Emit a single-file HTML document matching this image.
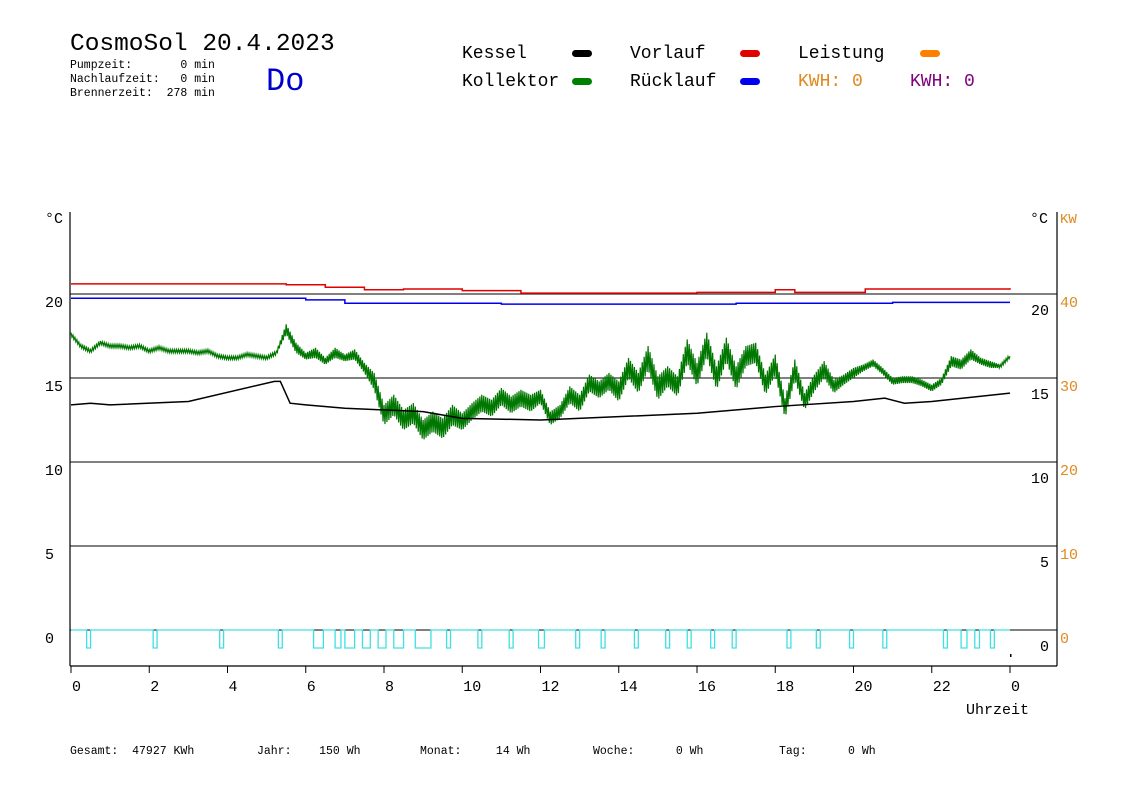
<!DOCTYPE html>
<html><head><meta charset="utf-8"><style>
body{margin:0;background:#fff;width:1148px;height:812px;overflow:hidden}
svg{display:block}
text{font-family:"Liberation Mono",monospace}
</style></head><body>
<svg id="chart" width="1148" height="812" xmlns="http://www.w3.org/2000/svg">
<g>
<text x="70" y="50" font-size="24.5">CosmoSol 20.4.2023</text>
<text x="70" y="68" font-size="11.5" xml:space="preserve">Pumpzeit:       0 min</text>
<text x="70" y="82" font-size="11.5" xml:space="preserve">Nachlaufzeit:   0 min</text>
<text x="70" y="96" font-size="11.5" xml:space="preserve">Brennerzeit:  278 min</text>
<text x="266" y="90" font-size="32" fill="#0000cc">Do</text>
</g>
<g font-size="18">
<text x="462" y="58">Kessel</text>
<rect x="572" y="50" width="20" height="7" rx="3.5" fill="#000"/>
<text x="462" y="86">Kollektor</text>
<rect x="572" y="78" width="20" height="7" rx="3.5" fill="#008000"/>
<text x="630" y="58">Vorlauf</text>
<rect x="740" y="50" width="20" height="7" rx="3.5" fill="#e00000"/>
<text x="630" y="86">Rücklauf</text>
<rect x="740" y="78" width="20" height="7" rx="3.5" fill="#0000ee"/>
<text x="798" y="58">Leistung</text>
<rect x="920" y="50" width="20" height="7" rx="3.5" fill="#ff8000"/>
<text x="798" y="86" fill="#e08a20">KWH: 0</text>
<text x="910" y="86" fill="#800080">KWH: 0</text>
</g>
<g font-size="11.5">
<text x="70" y="754" xml:space="preserve">Gesamt:  47927 KWh</text>
<text x="257" y="754" xml:space="preserve">Jahr:    150 Wh</text>
<text x="420" y="754" xml:space="preserve">Monat:     14 Wh</text>
<text x="593" y="754" xml:space="preserve">Woche:      0 Wh</text>
<text x="779" y="754" xml:space="preserve">Tag:      0 Wh</text>
</g>
<g id="plot"></g>
</svg>
<script>
const tempTicks=[0,5,10,15,20];
const kwTicks=[0,10,20,30,40];
const hourTicks=[0,2,4,6,8,10,12,14,16,18,20,22,24];
const hourLabels=["0","2","4","6","8","10","12","14","16","18","20","22","0"];
const vorlaufH=[0,5.5,6.5,7.5,8.5,10,11.5,16,18,18.5,20.3,24];
const vorlaufV=[20.6,20.55,20.4,20.25,20.3,20.2,20.05,20.1,20.25,20.1,20.3,20.35];
const ruecklaufH=[0,6,7,11,17,21,24];
const ruecklaufV=[19.75,19.65,19.45,19.4,19.45,19.5,19.5];
const kesselH=[0,0.5,1,3,5.2,5.35,5.6,6,7,9,10,12,14,16,18,20,20.8,21.3,22,24];
const kesselV=[13.4,13.5,13.4,13.6,14.8,14.8,13.5,13.4,13.2,13.0,12.6,12.5,12.7,12.9,13.3,13.6,13.8,13.5,13.6,14.1];
const kollektorV=[17.6,16.9,16.6,17.1,16.9,16.9,16.8,16.9,16.6,16.8,16.6,16.6,16.6,16.5,16.6,16.3,16.2,16.2,16.4,16.3,16.2,16.5,17.9,16.8,16.3,16.5,16.0,16.5,16.2,16.4,15.6,14.8,12.8,13.4,12.5,12.9,11.9,12.4,12.0,12.8,12.4,13.0,13.5,13.2,13.9,13.4,13.8,13.5,13.9,12.6,13.0,14.0,13.5,14.7,14.3,14.8,14.2,15.6,14.7,16.2,14.4,15.1,14.5,16.6,15.2,17.0,15.0,16.7,15.0,16.3,16.5,14.6,15.8,13.2,15.5,13.6,14.7,15.5,14.5,14.9,15.3,15.6,15.9,15.4,14.8,14.9,14.9,14.7,14.4,14.8,16.0,15.8,16.4,16.0,15.8,15.7,16.3];
const kollektorSpread=[0.1,0.1,0.1,0.1,0.1,0.1,0.1,0.1,0.1,0.1,0.1,0.1,0.1,0.1,0.1,0.1,0.1,0.1,0.1,0.1,0.1,0.1,0.3,0.3,0.2,0.3,0.2,0.3,0.2,0.3,0.3,0.5,0.6,0.6,0.6,0.6,0.6,0.6,0.6,0.6,0.5,0.5,0.5,0.5,0.5,0.5,0.5,0.5,0.4,0.4,0.4,0.5,0.5,0.5,0.5,0.5,0.6,0.6,0.6,0.7,0.7,0.6,0.6,0.7,0.7,0.7,0.7,0.7,0.7,0.6,0.6,0.6,0.6,0.6,0.6,0.5,0.5,0.5,0.4,0.3,0.3,0.2,0.2,0.2,0.2,0.2,0.2,0.2,0.2,0.2,0.3,0.3,0.3,0.2,0.2,0.1,0.1];
const pumpStart=[0.4,2.1,3.8,5.3,6.2,6.75,7.0,7.45,7.85,8.25,8.8,9.6,10.4,11.2,11.95,12.9,13.55,14.4,15.2,15.75,16.35,16.9,18.3,19.05,19.9,20.75,22.3,22.75,23.1,23.5];
const pumpDur=[0.1,0.1,0.1,0.1,0.25,0.15,0.25,0.2,0.2,0.25,0.4,0.1,0.1,0.1,0.15,0.1,0.1,0.1,0.1,0.1,0.1,0.1,0.1,0.1,0.1,0.1,0.1,0.15,0.12,0.1];

const NS="http://www.w3.org/2000/svg";
const g=document.getElementById('plot');
const X=h=>71+39.125*h;
const Y=v=>630-16.8*v;
const KY=k=>630-8.4*k;
function mk(tag,attrs){const e=document.createElementNS(NS,tag);for(const k in attrs)e.setAttribute(k,attrs[k]);g.appendChild(e);return e;}

tempTicks.forEach(t=>{
 const l=mk('line',{x1:70,x2:1057,y1:Y(t),y2:Y(t),stroke:'#000','stroke-width':1});
 
 
 const a=mk('text',{x:45,y:Y(t)+13,'font-size':15});a.textContent=t;
 
 
 const b=mk('text',{x:1049,y:Y(t)+21,'font-size':15,'text-anchor':'end'});b.textContent=t;
 
 
});
kwTicks.forEach(k=>{
 const t=mk('text',{x:1060,y:KY(k)+13,'font-size':15,fill:'#e08a20'});t.textContent=k;
 
 
});
[['left-axis',70,212,70,666],['right-axis',1057,212,1057,666],['x-axis',70,666,1057,666]].forEach(a=>{
 const l=mk('line',{x1:a[1],y1:a[2],x2:a[3],y2:a[4],stroke:'#000','stroke-width':1.2});
 
 
});
hourTicks.forEach((h,i)=>{
 const l=mk('line',{x1:X(h),x2:X(h),y1:666,y2:673,stroke:'#000'});
 
 
 const t=mk('text',{x:X(h)+1,y:691,'font-size':15});t.textContent=hourLabels[i];
 
 
});
const u=mk('text',{x:966,y:714,'font-size':15});u.textContent='Uhrzeit';


const c1=mk('text',{x:45,y:223,'font-size':15});c1.textContent='°C';


const c2=mk('text',{x:1030,y:223,'font-size':15});c2.textContent='°C';


const c3=mk('text',{x:1060,y:223,'font-size':14,fill:'#e08a20'});c3.textContent='KW';



function stepPts(H,V){let p=[];for(let i=0;i<H.length;i++){if(i>0)p.push(X(H[i])+','+Y(V[i-1]));p.push(X(H[i])+','+Y(V[i]));}return p.join(' ');}
const vl=mk('polyline',{points:stepPts(vorlaufH,vorlaufV),fill:'none',stroke:'#e00000','stroke-width':1.5});


const rl=mk('polyline',{points:stepPts(ruecklaufH,ruecklaufV),fill:'none',stroke:'#0000ee','stroke-width':1.5});


// kollektor: jagged band around the value series with the given spread
let kp=[];
const SUB=10;
for(let i=0;i<kollektorV.length-1;i++){
 for(let j=0;j<SUB;j++){
  const f=j/SUB;
  const v=kollektorV[i]+(kollektorV[i+1]-kollektorV[i])*f;
  const s=kollektorSpread[i]+(kollektorSpread[i+1]-kollektorSpread[i])*f;
  const sign=((i*SUB+j)%2===0)?1:-1;
  kp.push(X((i+f)*0.25)+','+Y(v+sign*s));
 }
}
kp.push(X(24)+','+Y(kollektorV[kollektorV.length-1]));
const kl=mk('polyline',{points:kp.join(' '),fill:'none',stroke:'#007700','stroke-width':1.2});


const kp2=kesselH.map((h,i)=>X(h)+','+Y(kesselV[i])).join(' ');
const ke=mk('polyline',{points:kp2,fill:'none',stroke:'#000','stroke-width':1.5});



let pp=[X(0)+','+Y(0)];
pumpStart.forEach((s,i)=>{const a=X(s),b=X(s+pumpDur[i]),y0=Y(0),y1=Y(0)+18;pp.push(a+','+y0,a+','+y1,b+','+y1,b+','+y0);});
pp.push(X(24)+','+Y(0));
const pl=mk('polyline',{points:pp.join(' '),fill:'none',stroke:'#40e0e0','stroke-width':1.3});


const d=mk('rect',{x:X(24),y:654,width:1.5,height:3,fill:'#000'});


</script>
</body></html>
